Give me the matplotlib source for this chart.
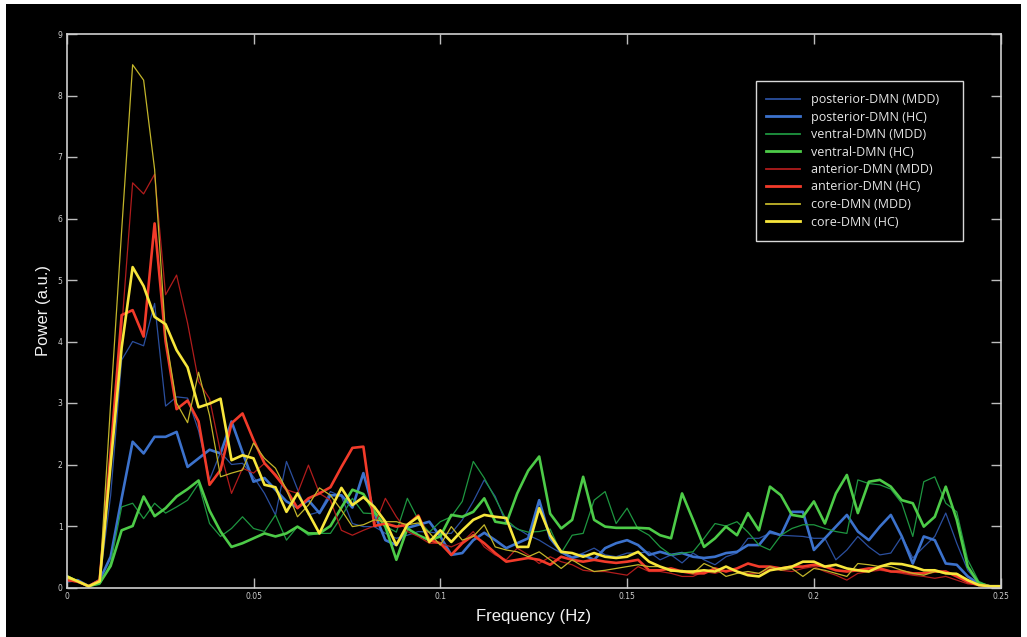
import matplotlib
matplotlib.use('Agg')
import matplotlib.pyplot as plt
import numpy as np
from matplotlib.patches import Rectangle

# ---------------- data ----------------
freq = np.linspace(0.0, 0.25, 86)

posterior_mdd = [0.10,0.12,0.02,0.10,1.50,3.70,4.00,3.93,4.62,2.95,
                 3.10,3.08,2.55,1.75,2.20,2.00,2.02,1.80,1.53,1.18,
                 2.05,1.60,1.18,1.23,1.56,1.48,1.04,0.99,0.99,0.88,
                 0.80,0.85,0.91,0.90,0.88,0.88,1.10,1.40,1.75,1.48,
                 1.04,0.96,0.85,0.77,0.66,0.56,0.50,0.56,0.64,0.53,
                 0.50,0.56,0.56,0.58,0.45,0.53,0.40,0.56,0.45,0.37,
                 0.50,0.56,0.80,0.80,0.88,0.85,0.84,0.83,0.80,0.80,
                 0.45,0.61,0.83,0.66,0.53,0.56,0.83,0.48,0.66,0.83,
                 1.21,0.72,0.28,0.07,0.02,0.02]
posterior_hc = [0.10,0.12,0.02,0.12,0.50,1.45,2.37,2.18,2.45,2.45,
                2.53,1.96,2.10,2.24,2.18,2.70,2.20,1.72,1.78,1.59,
                1.40,1.30,1.42,1.21,1.50,1.50,1.30,1.86,1.21,0.77,
                0.69,0.97,1.02,1.07,0.83,0.53,0.56,0.77,0.89,0.77,
                0.64,0.72,0.80,1.42,0.80,0.58,0.48,0.53,0.45,0.64,
                0.72,0.77,0.69,0.53,0.58,0.53,0.56,0.50,0.48,0.50,
                0.56,0.58,0.69,0.69,0.91,0.85,1.23,1.23,0.61,0.80,
                0.99,1.18,0.91,0.77,0.99,1.18,0.83,0.39,0.83,0.77,
                0.39,0.37,0.18,0.06,0.02,0.02]
ventral_mdd = [0.20,0.10,0.02,0.05,0.40,1.31,1.37,1.12,1.37,1.21,
               1.31,1.42,1.69,1.04,0.83,0.96,1.15,0.96,0.91,1.18,
               0.77,0.99,0.85,0.88,0.88,1.15,1.45,1.21,1.20,1.00,
               0.90,1.45,1.10,0.90,1.07,1.15,1.40,2.05,1.78,1.45,
               1.10,0.95,0.90,0.91,0.95,0.56,0.85,0.88,1.42,1.56,
               1.04,1.29,0.95,0.85,0.66,0.53,0.56,0.58,0.80,1.04,
               1.00,1.07,0.90,0.69,0.61,0.85,0.96,1.02,1.02,0.96,
               0.91,0.88,1.75,1.69,1.67,1.60,1.37,0.83,1.72,1.80,
               1.37,1.23,0.45,0.10,0.02,0.02]
ventral_hc = [0.18,0.10,0.02,0.07,0.35,0.93,1.00,1.48,1.16,1.29,
              1.48,1.60,1.74,1.25,0.91,0.66,0.72,0.80,0.88,0.83,
              0.88,0.99,0.88,0.88,1.00,1.30,1.59,1.52,1.23,0.99,
              0.45,0.96,0.85,0.77,0.83,1.18,1.15,1.23,1.45,1.07,
              1.04,1.53,1.90,2.13,1.20,0.96,1.10,1.80,1.10,0.99,
              0.97,0.97,0.97,0.96,0.85,0.80,1.53,1.10,0.66,0.80,
              0.99,0.85,1.21,0.93,1.64,1.50,1.18,1.15,1.40,1.04,
              1.53,1.83,1.21,1.72,1.75,1.64,1.42,1.37,0.99,1.15,
              1.64,1.10,0.34,0.07,0.02,0.02]
anterior_mdd = [0.12,0.08,0.02,0.12,2.00,4.20,6.58,6.40,6.72,4.76,
                5.08,4.30,3.35,3.07,2.20,1.53,1.94,1.86,2.02,1.80,
                1.59,1.53,1.99,1.53,1.42,0.93,0.85,0.93,1.00,1.45,
                1.15,0.91,0.83,0.72,0.72,0.66,0.74,0.91,0.66,0.53,
                0.45,0.64,0.53,0.39,0.50,0.42,0.37,0.28,0.26,0.26,
                0.23,0.20,0.34,0.26,0.26,0.23,0.18,0.18,0.26,0.23,
                0.28,0.26,0.23,0.23,0.31,0.28,0.26,0.31,0.34,0.26,
                0.20,0.12,0.23,0.26,0.28,0.26,0.23,0.20,0.18,0.15,
                0.18,0.12,0.06,0.04,0.02,0.02]
anterior_hc = [0.12,0.10,0.02,0.12,2.20,4.43,4.51,4.08,5.92,4.00,
               2.90,3.04,2.70,1.67,1.91,2.67,2.83,2.40,2.02,1.83,
               1.59,1.29,1.45,1.53,1.63,1.96,2.27,2.29,1.00,1.04,
               0.99,1.02,1.17,0.77,0.72,0.53,0.72,0.85,0.72,0.56,
               0.42,0.45,0.48,0.45,0.37,0.50,0.45,0.42,0.45,0.42,
               0.40,0.42,0.45,0.28,0.28,0.31,0.26,0.23,0.23,0.31,
               0.26,0.31,0.39,0.34,0.34,0.31,0.34,0.34,0.37,0.34,
               0.28,0.26,0.28,0.31,0.31,0.26,0.26,0.23,0.23,0.26,
               0.26,0.18,0.09,0.04,0.02,0.02]
core_mdd = [0.15,0.10,0.02,0.10,3.00,5.80,8.50,8.25,6.80,4.10,
            3.00,2.68,3.50,2.80,1.80,1.86,1.91,2.35,2.10,1.94,
            1.59,1.15,1.34,1.62,1.50,1.26,0.99,1.02,1.10,1.07,
            1.07,1.02,1.05,0.89,0.69,0.99,0.77,0.83,1.02,0.66,
            0.61,0.58,0.50,0.58,0.45,0.31,0.45,0.34,0.26,0.28,
            0.31,0.34,0.37,0.34,0.34,0.26,0.28,0.23,0.39,0.31,
            0.18,0.23,0.26,0.23,0.34,0.28,0.31,0.18,0.31,0.28,
            0.23,0.18,0.39,0.37,0.34,0.34,0.28,0.23,0.20,0.26,
            0.23,0.23,0.12,0.04,0.02,0.02]
core_hc = [0.18,0.10,0.02,0.10,2.00,3.90,5.21,4.90,4.40,4.28,
           3.86,3.58,2.93,2.99,3.07,2.07,2.15,2.10,1.67,1.63,
           1.23,1.53,1.21,0.88,1.26,1.62,1.34,1.47,1.31,1.07,
           0.69,1.02,1.15,0.74,0.93,0.74,0.93,1.10,1.18,1.15,
           1.13,0.66,0.66,1.29,0.85,0.58,0.56,0.50,0.56,0.50,
           0.48,0.50,0.58,0.42,0.34,0.28,0.26,0.26,0.28,0.26,
           0.34,0.26,0.20,0.18,0.28,0.31,0.34,0.42,0.42,0.34,
           0.37,0.31,0.28,0.26,0.34,0.39,0.38,0.34,0.28,0.28,
           0.23,0.22,0.12,0.04,0.02,0.02]

labels = ['posterior-DMN (MDD)', 'posterior-DMN (HC)',
          'ventral-DMN (MDD)', 'ventral-DMN (HC)',
          'anterior-DMN (MDD)', 'anterior-DMN (HC)',
          'core-DMN (MDD)', 'core-DMN (HC)']
series = [posterior_mdd, posterior_hc, ventral_mdd, ventral_hc,
          anterior_mdd, anterior_hc, core_mdd, core_hc]
colors = ['#2b4f9e', '#3c72cc', '#1e9640', '#4dcb48',
          '#b01c1c', '#f23b2a', '#c2b52a', '#f7e63c']
widths = [0.9, 1.9, 0.9, 1.9, 0.9, 1.9, 0.9, 1.9]

yticks = [0, 1, 2, 3, 4, 5, 6, 7, 8, 9]
xticks = [0, 0.05, 0.1, 0.15, 0.2, 0.25]
xticklabels = ['0', '0.05', '0.1', '0.15', '0.2', '0.25']

# ---------------- figure ----------------
W, H = 1027, 637
fig = plt.figure(figsize=(W / 100, H / 100), dpi=100, facecolor='white')
fig.patches.append(Rectangle((6 / W, 0), (1021 - 6) / W, 1 - 4 / H,
                             transform=fig.transFigure, facecolor='black',
                             edgecolor='none', zorder=-10))

ax = fig.add_axes([66.7 / W, 49.5 / H, 934 / W, 553.5 / H])
ax.set_facecolor('black')

handles = []
for vals, lab, c, lw in zip(series, labels, colors, widths):
    h, = ax.plot(freq, vals, color=c, lw=lw, label=lab)
    handles.append(h)

ax.set_xlim(0, 0.25)
ax.set_ylim(0, 9)
ax.set_xticks(xticks)
ax.set_xticklabels(xticklabels)
ax.set_yticks(yticks)

for s in ax.spines.values():
    s.set_color('#cfcfcf')
    s.set_linewidth(1.2)

ax.tick_params(direction='in', length=7, width=1.0, color='#bdbdbd',
               labelcolor='#cfcfcf', labelsize=5.5, top=True, right=True,
               pad=3, labelfontfamily='DejaVu Sans')

ax.set_xlabel('Frequency (Hz)', color='#f2f2f2', fontsize=12,
              family='Liberation Sans', labelpad=6)
ax.set_ylabel('Power (a.u.)', color='#f2f2f2', fontsize=12,
              family='Liberation Sans', labelpad=5)

# legend box
fig.patches.append(Rectangle((756 / W, 1 - 241 / H), (963 - 756) / W, (241 - 81) / H,
                             transform=fig.transFigure, facecolor='black',
                             edgecolor='#d8d8d8', lw=1.0, zorder=5))
leg = fig.legend(handles=handles, labels=labels, loc='upper left',
                 bbox_to_anchor=(766 / W, 1 - 93 / H), frameon=False,
                 borderpad=0, borderaxespad=0, handlelength=2.7,
                 handletextpad=0.9, labelspacing=0.36,
                 prop={'family': 'Open Sans', 'size': 9})
leg.set_zorder(6)
for t in leg.get_texts():
    t.set_color('#e6e6e6')
for lh, lw in zip(leg.get_lines(), widths):
    lh.set_linewidth(1.3 if lw < 1.5 else 2.0)

fig.savefig('out.png', dpi=100, facecolor=fig.get_facecolor())
